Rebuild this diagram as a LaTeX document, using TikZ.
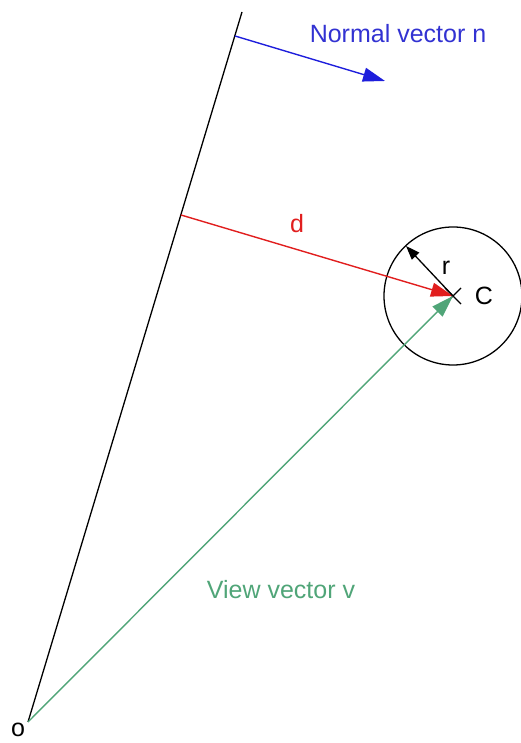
\documentclass[tikz,border=0pt]{standalone}
\usepackage{fontspec}
\setmainfont{Liberation Sans}
\usetikzlibrary{arrows.meta,calc}
\definecolor{nblue}{RGB}{30,30,220}
\definecolor{nbluetext}{RGB}{50,50,210}
\definecolor{dred}{RGB}{225,30,30}
\definecolor{vgreen}{RGB}{80,165,120}
\begin{document}
\begin{tikzpicture}[x=1pt,y=1pt,
  lbl/.style={font=\fontsize{25}{29}\selectfont, inner sep=0pt},
  vec/.style={line width=1.4pt},
  bigtip/.style={-{Triangle[length=22pt,width=14pt]}},
  smalltip/.style={-{Triangle[length=14pt,width=10pt]}}]
\useasboundingbox (0,0) rectangle (520,743);
\coordinate (O) at (28,21);
\coordinate (T) at (242,731);
\coordinate (C) at (453,447);
\coordinate (Dstart) at (181,528);
\coordinate (Nstart) at (235,707);
\coordinate (Nend) at (385,662);
\coordinate (Rend) at (406,497);
% plane line
\draw[line width=1.3pt, black] (O) -- (T);
% sphere
\draw[line width=1.3pt] (C) circle[radius=69];
% cross at centre
\draw[line width=1.1pt] ($(C)+(-8,8)$) -- ($(C)+(8,-8)$);
\draw[line width=1.1pt] ($(C)+(-8,-8)$) -- ($(C)+(8,8)$);
% vectors
\draw[vec, nblue, bigtip] (Nstart) -- (Nend);
\draw[vec, dred, bigtip] (Dstart) -- (C);
\draw[vec, vgreen, bigtip] (O) -- (C);
\draw[line width=1.3pt, black, smalltip] (C) -- (Rend);
% labels
\node[lbl, text=nbluetext] (ln) at (398,709) {Normal vector n};
\node[lbl, text=dred] (ld) at (297,519) {d};
\node[lbl] (lr) at (446,475) {r};
\node[lbl] (lc) at (484,447) {C};
\node[lbl, text=vgreen] (lv) at (281,153) {View vector v};
\node[lbl] (lo) at (18,13) {o};
\end{tikzpicture}
\end{document}
